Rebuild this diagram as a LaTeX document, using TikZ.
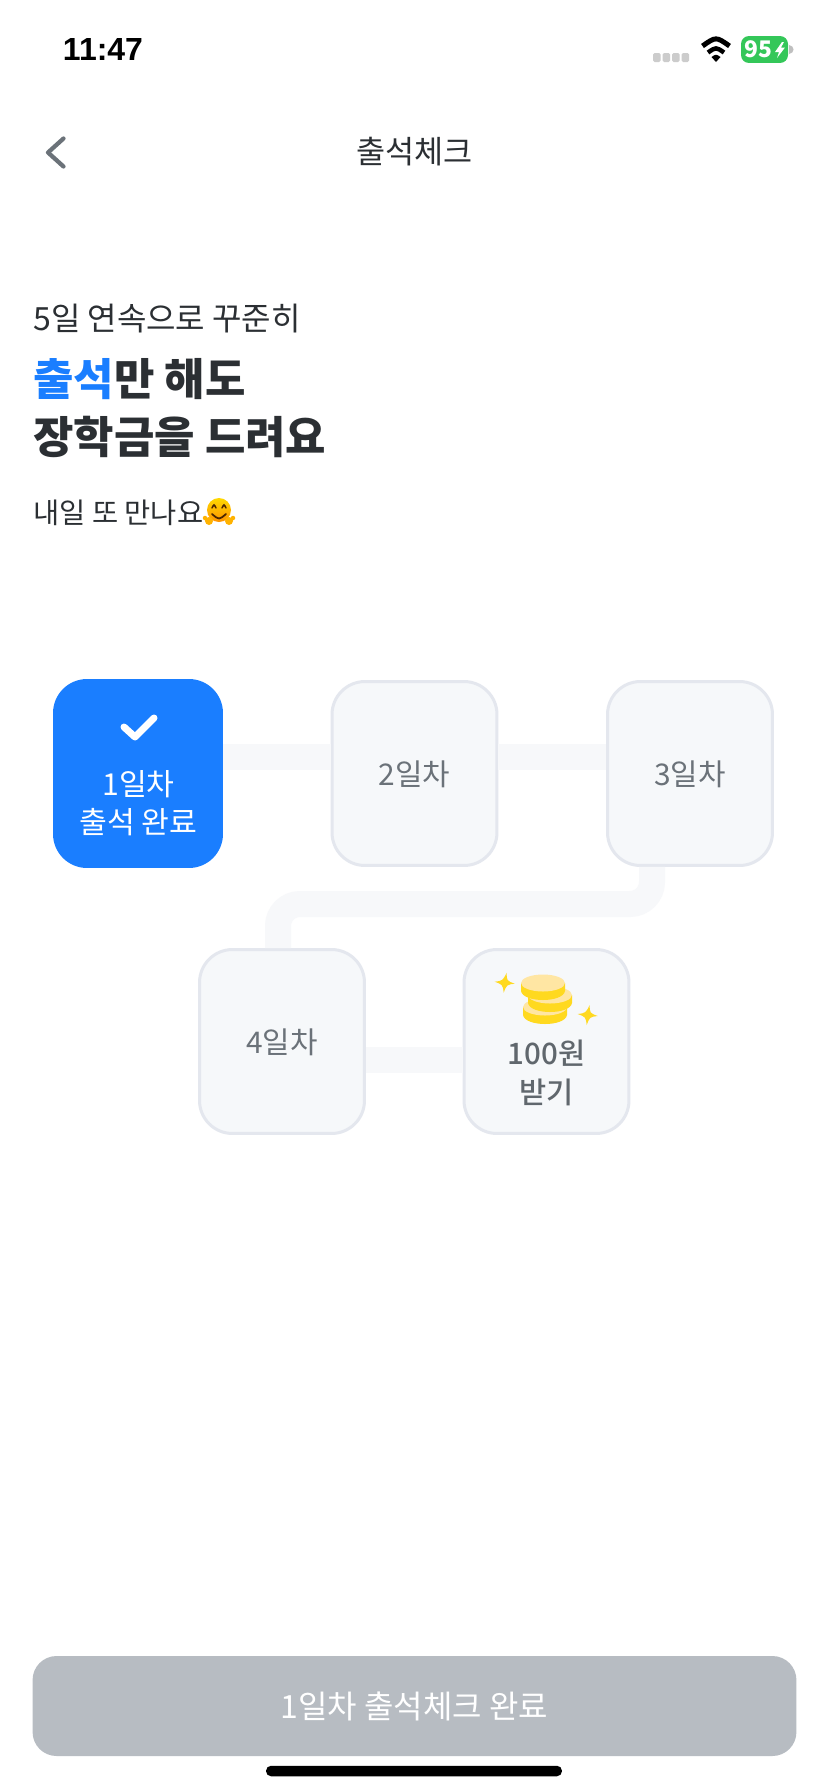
\documentclass[tikz,border=0pt]{standalone}
\usepackage{fontspec}
\usepackage{tikz}
\usetikzlibrary{calc}
\setmainfont{Noto Sans CJK KR}
\newfontfamily\statusfont{Liberation Sans}
\newfontfamily\mediumfont{Noto Sans CJK KR Medium}
\definecolor{inkdark}{HTML}{2B2F33}
\definecolor{inkgray}{HTML}{6B7279}
\definecolor{brandblue}{HTML}{1A7EFF}
\definecolor{boxfill}{HTML}{F6F8FA}
\definecolor{boxline}{HTML}{E4E7EE}
\definecolor{trackgray}{HTML}{F7F8FA}
\definecolor{btngray}{HTML}{B7BCC2}
\definecolor{coinyellow}{HTML}{FFD91F}
\definecolor{cointop}{HTML}{FFE6A3}
\definecolor{batgreen}{HTML}{34C759}
\tikzset{
  daybox/.style={draw=boxline,line width=0.06cm,fill=boxfill,rounded corners=0.66cm,
    minimum width=3.3cm,minimum height=3.68cm,inner sep=0pt,text=inkgray,text depth=0pt,
    font=\fontsize{17}{22}\selectfont},
  donebox/.style={fill=brandblue,rounded corners=0.68cm,minimum width=3.4cm,minimum height=3.78cm,inner sep=0pt},
  trackline/.style={draw=trackgray,line width=0.52cm},
  daytext/.style={align=center,inner sep=0pt},
  heading/.style={anchor=west,inner sep=0pt,text=inkdark},
}
\begin{document}
\begin{tikzpicture}[x=0.02cm,y=-0.02cm]
  \useasboundingbox (0,0) rectangle (828,1792);
  \fill[white] (0,0) rectangle (828,1792);

  % status bar
  \node[inner sep=0pt,font=\statusfont\bfseries\fontsize{18.2}{20}\selectfont] (clock) at (103,49.5) {11:47};
  \foreach \x in {653,662.5,672,681.5}
    \fill[black!20,rounded corners=0.03cm] (\x,53) rectangle +(7.5,9);
  \draw[line width=0.1cm] (702.5,46) .. controls (716,36.5) .. (729.5,46);
  \draw[line width=0.09cm] (708,52.5) .. controls (716,47) .. (724,52.5);
  \fill (716,62) -- (711.5,57) .. controls (716,54) .. (720.5,57) -- cycle;
  \fill[black!25] (789,45) .. controls (795,46) and (795,53) .. (789,54) -- cycle;
  \node[fill=batgreen,rounded corners=0.16cm,minimum width=0.94cm,minimum height=0.54cm,inner sep=0pt] (battery) at (764.5,49.5) {};
  \node[inner sep=0pt,text=white,font=\bfseries\fontsize{13}{14}\selectfont] (batlevel) at (758.5,49.5) {95};
  \fill[white] (782,42) -- (775,52) -- (779,52) -- (777,58) -- (785,47.5) -- (781,47.5) -- (784,42) -- cycle;

  % title bar
  \draw[inkgray,line width=0.085cm,line cap=round,line join=round] (63.5,138.5) -- (48,152.5) -- (63.5,166.5);
  \node[inner sep=0pt,text=inkdark,font=\fontsize{18}{22}\selectfont] (title) at (414.5,152) {출석체크};

  % headline
  \node[heading,font=\fontsize{18.2}{22}\selectfont] (line1) at (33,319) {5일 연속으로 꾸준히};
  \node[heading,font=\mediumfont\bfseries\fontsize{25}{30}\selectfont] (line2) at (33,379.5) {\textcolor{brandblue}{출석}만 해도};
  \node[heading,font=\mediumfont\bfseries\fontsize{25}{30}\selectfont] (line3) at (33,437) {장학금을 드려요};
  \node[heading,font=\fontsize{16.2}{20}\selectfont] (line4) at (33,513) {내일 또 만나요};

  % hug emoji
  \shade[top color=yellow!70!orange,bottom color=orange!85!yellow] (219,510) circle (0.24cm);
  \draw[black!70!orange,line width=0.03cm,line cap=round] (212,508) .. controls (214,504) .. (216,508);
  \draw[black!70!orange,line width=0.03cm,line cap=round] (222,508) .. controls (224,504) .. (226,508);
  \draw[black!70!orange,line width=0.035cm,line cap=round] (212,514) .. controls (219,520) .. (226,514);
  \fill[orange!60!yellow] (209,521) circle (0.08cm) (205,518) circle (0.045cm) (229,521) circle (0.08cm) (233,518) circle (0.045cm);

  % day boxes
  \node[donebox] (day1) at (138,773.5) {};
  \node[daybox] (day2) at (414.5,773.5) {2일차};
  \node[daybox] (day3) at (690,773.5) {3일차};
  \node[daybox] (day4) at (282,1041.5) {4일차};
  \node[daybox] (day5) at (546.5,1041.5) {};

  % track between boxes
  \coordinate (turn3) at ($(day3.south)+(-38,0)$);
  \coordinate (turn4) at ($(day4.north)+(-4,0)$);
  \coordinate (turnmid) at (414,904);
  \draw[trackline] ($(day1.east)+(0,-16.5)$) -- ($(day2.west)+(0,-16.5)$);
  \draw[trackline] ($(day2.east)+(0,-16.5)$) -- ($(day3.west)+(0,-16.5)$);
  \draw[trackline,rounded corners=0.44cm] (turn3) -- (turn3 |- turnmid) -- (turn4 |- turnmid) -- (turn4);
  \draw[trackline] ($(day4.east)+(0,18.5)$) -- ($(day5.west)+(0,18.5)$);

  \draw[white,line width=0.14cm,line cap=round,line join=round] (124,727) -- (135,737) -- (154,718);
  \node[daytext,text=white,font=\fontsize{17.2}{22}\selectfont] (day1text) at (138.5,803) {1일차\\출석 완료};
  \node[daytext,text=inkgray!90!black,font=\mediumfont\fontsize{16.8}{22.5}\selectfont] (day5text) at (546.5,1073) {100원\\받기};

  % coins
  \foreach \cx/\cy in {545/1007,550/995,543/983}{
    \fill[coinyellow] (\cx-22,\cy) -- (\cx-22,\cy+8) .. controls (\cx-20,\cy+20) and (\cx+20,\cy+20) .. (\cx+22,\cy+8) -- (\cx+22,\cy) -- cycle;
    \fill[cointop] (\cx,\cy) ellipse (0.44cm and 0.17cm);
  }
  \foreach \sx/\sy in {504.7/982.7,587.7/1015}
    \fill[coinyellow] (\sx+2,\sy-10) .. controls (\sx+2,\sy-2) .. (\sx+10,\sy+1)
      .. controls (\sx+2,\sy+2) .. (\sx-1,\sy+10)
      .. controls (\sx-2,\sy+2) .. (\sx-10,\sy-1)
      .. controls (\sx-2,\sy-2) .. (\sx+2,\sy-10) -- cycle;

  % button and home bar
  \node[fill=btngray,rounded corners=0.48cm,minimum width=15.28cm,minimum height=2cm,inner sep=0pt,text=white,
    font=\fontsize{18.2}{22}\selectfont] (button) at (414.5,1706) {1일차 출석체크 완료};
  \node[fill=black,rounded corners=0.1cm,minimum width=5.92cm,minimum height=0.21cm,inner sep=0pt] (homebar) at (414,1771) {};
\end{tikzpicture}
\end{document}
